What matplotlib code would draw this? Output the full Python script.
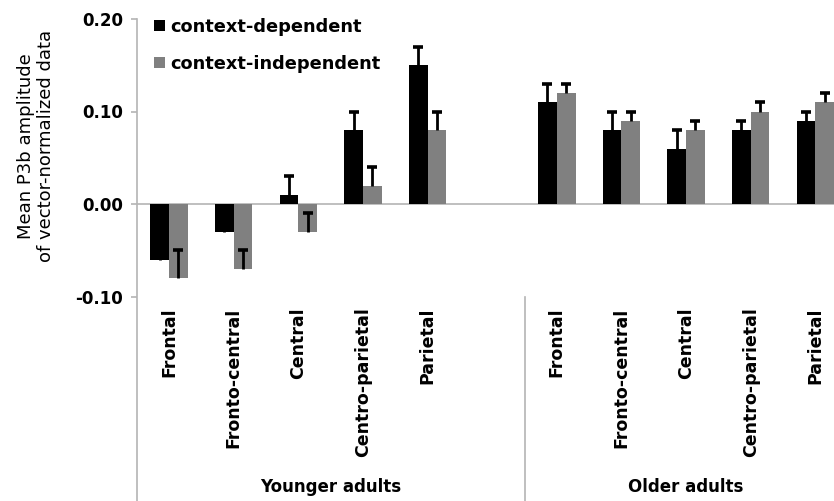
import numpy as np
import matplotlib

matplotlib.use("Agg")
import matplotlib.pyplot as plt

# P3b amplitude per electrode region, two age groups, two conditions
regions = ["Frontal", "Fronto-central", "Central", "Centro-parietal", "Parietal"]
groups = ["Younger adults", "Older adults"]
series_names = ["context-dependent", "context-independent"]

dep_young = [-0.06, -0.03, 0.01, 0.08, 0.15]
indep_young = [-0.08, -0.07, -0.03, 0.02, 0.08]
dep_old = [0.11, 0.08, 0.06, 0.08, 0.09]
indep_old = [0.12, 0.09, 0.08, 0.10, 0.11]

# upper error (SE), plotted in the plus direction only
dep_young_err = [0.02, 0.02, 0.02, 0.02, 0.02]
indep_young_err = [0.03, 0.02, 0.02, 0.02, 0.02]
dep_old_err = [0.02, 0.02, 0.02, 0.01, 0.01]
indep_old_err = [0.01, 0.01, 0.01, 0.01, 0.01]

yticks = [-0.10, 0.00, 0.10, 0.20]
ytick_labels = ["-0.10", "0.00", "0.10", "0.20"]

BLACK, GREY, AXIS = "#000000", "#808080", "#B4B4B4"

# 5 regions, one empty slot, 5 regions
n = len(regions)
x_young = np.arange(n)
x_old = np.arange(n) + n + 1
x = np.concatenate([x_young, x_old])
dep = np.array(dep_young + dep_old)
indep = np.array(indep_young + indep_old)
dep_err = np.array(dep_young_err + dep_old_err)
indep_err = np.array(indep_young_err + indep_old_err)

W, H = 834, 501
fig = plt.figure(figsize=(W / 100, H / 100), dpi=100)
ax = fig.add_axes([136.7 / W, 0, 711 / W, 482 / H])

bw = 0.289
b1 = ax.bar(x - bw / 2, dep, bw, color=BLACK, label=series_names[0], zorder=2)
b2 = ax.bar(x + bw / 2, indep, bw, color=GREY, label=series_names[1], zorder=2)
# plus-only error bars: stem from the bar end up, cap at the top
for xs, ys, es in ((x - bw / 2, dep, dep_err), (x + bw / 2, indep, indep_err)):
    ax.vlines(xs, ys, ys + es, color=BLACK, lw=2.0, zorder=3)
    ax.plot(xs, ys + es, ls="none", marker="_", ms=7, mew=2.6, color=BLACK, zorder=3)

ax.set_xlim(-0.5, 2 * n + 0.5)
ax.set_ylim(0.20 - 482 / 925, 0.20)
ax.axhline(0, color=AXIS, lw=1.2, zorder=1)

for side in ("top", "right", "bottom"):
    ax.spines[side].set_visible(False)
ax.spines["left"].set_color(AXIS)
ax.spines["left"].set_linewidth(1.2)
ax.set_xticks([])
ax.set_yticks(yticks)
ax.set_yticklabels(ytick_labels, fontsize=12, fontweight="bold")
ax.tick_params(axis="y", direction="out", length=4, width=1.2, color=AXIS, pad=6)

# category labels below the axis, then the group labels
for xi, name in zip(x, regions * 2):
    ax.text(xi, -0.112, name, rotation=90, ha="center", va="top",
            fontsize=12.5, fontweight="bold")
group_centers = [(x_young[0] - 0.5 + n + 0.5) / 2, (x_old[0] - 0.5 + x_old[-1] + 0.5) / 2]
for gx, g in zip(group_centers, groups):
    ax.text(gx, -0.311, g, ha="center", va="baseline", fontsize=12, fontweight="bold")
ax.plot([n + 0.5, n + 0.5], [-0.10, ax.get_ylim()[0]], color=AXIS, lw=1.2, clip_on=False)

fig.text(36 / W, 1 - 146 / H, "Mean P3b amplitude\nof vector-normalized data",
         rotation=90, ha="center", va="center", multialignment="center", fontsize=13)

ax.legend(handles=[b1, b2], loc="upper left", bbox_to_anchor=(154 / W, 1 - 18 / H),
          bbox_transform=fig.transFigure, frameon=False,
          prop={"weight": "bold", "size": 12.8}, handlelength=0.6, handleheight=0.6,
          handletextpad=0.3, labelspacing=1.05, borderaxespad=0, borderpad=0)

fig.savefig("out.png", dpi=100)
